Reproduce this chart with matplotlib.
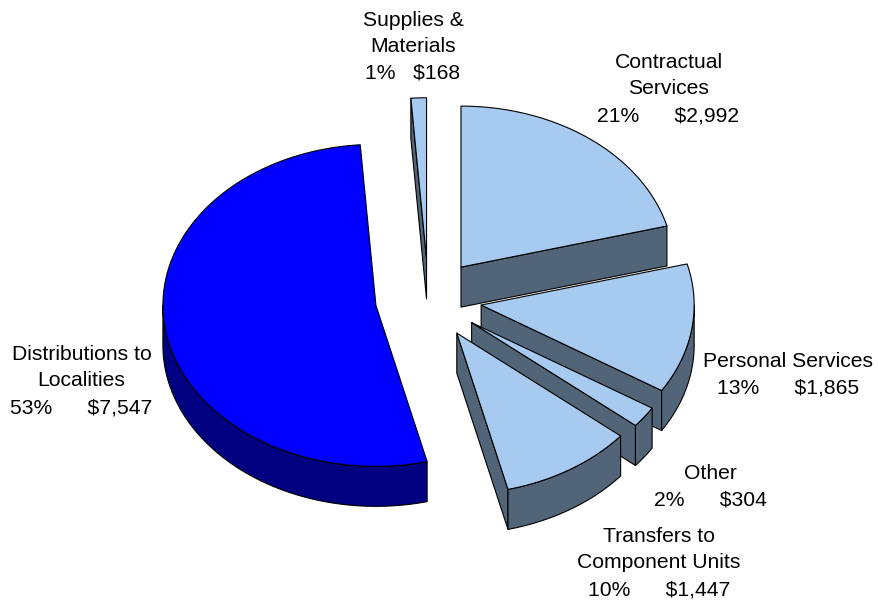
import numpy as np
import matplotlib
matplotlib.use("Agg")
import matplotlib.pyplot as plt
from matplotlib.patches import Polygon

# ---------------- data ----------------
categories = ["Contractual\nServices", "Personal Services", "Other",
              "Transfers to\nComponent Units", "Distributions to\nLocalities",
              "Supplies &\nMaterials"]
values = [2992, 1865, 304, 1447, 7547, 168]

# ---------------- style / layout ----------------
top_colors = ["#A6CAF0", "#A6CAF0", "#A6CAF0", "#A6CAF0", "#0000FF", "#A6CAF0"]
side_colors = ["#526478", "#526478", "#526478", "#526478", "#000080", "#526478"]
explode = 0.25
cx, cy = 428.5, 299.0     # pie centre (pixel space)
rx, ry = 213.0, 161.0     # ellipse radii
depth = 40.0
label_anchor = [(668.5, 68), (788.5, 367), (710, 479), (659, 542), (81.5, 360), (413, 26)]
label_gap = [6, 6, 6, 6, 6, 3]
line_step = 26.5

plt.rcParams['font.family'] = ['Liberation Sans', 'DejaVu Sans']

fig = plt.figure(figsize=(8.79, 6.05), dpi=100)
ax = fig.add_axes([0, 0, 1, 1])
ax.set_xlim(0, 879)
ax.set_ylim(605, 0)
ax.axis('off')

total = float(sum(values))
fracs = [v / total for v in values]
starts = np.concatenate([[0], np.cumsum(fracs)[:-1]]) * 360.0
ends = np.cumsum(fracs) * 360.0


def pt(c, th):
    t = np.radians(th)
    return np.array([c[0] + rx * np.sin(t), c[1] - ry * np.cos(t)])


slices = []
for i, (s, e) in enumerate(zip(starts, ends)):
    m = np.radians((s + e) / 2)
    c = np.array([cx + explode * rx * np.sin(m), cy - explode * ry * np.cos(m)])
    slices.append((c[1], i, c, s, e))

slices.sort(key=lambda q: q[0])
down = np.array([0, depth])
kw = dict(edgecolor='black', linewidth=0.8, joinstyle='round')

for _, i, c, s, e in slices:
    # radial walls
    if np.sin(np.radians(s)) < -1e-9:
        p = pt(c, s)
        ax.add_patch(Polygon([c, p, p + down, c + down], facecolor=side_colors[i], **kw))
    if np.sin(np.radians(e)) > 1e-9:
        p = pt(c, e)
        ax.add_patch(Polygon([c, p, p + down, c + down], facecolor=side_colors[i], **kw))
    # outer wall
    a0, a1 = max(s, 90.0), min(e, 270.0)
    if a1 > a0:
        th = np.linspace(a0, a1, 120)
        arc = np.array([pt(c, t) for t in th])
        poly = np.vstack([arc, (arc + down)[::-1]])
        ax.add_patch(Polygon(poly, facecolor=side_colors[i], **kw))
    # top face
    th = np.linspace(s, e, 200)
    arc = np.array([pt(c, t) for t in th])
    poly = np.vstack([[c], arc])
    ax.add_patch(Polygon(poly, facecolor=top_colors[i], **kw))

# labels
for i, (name, v) in enumerate(zip(categories, values)):
    pct = int(round(v / total * 100))
    lines = name.split("\n") + [f"{pct}%" + " " * label_gap[i] + f"${v:,}"]
    x0, y0 = label_anchor[i]
    for k, ln in enumerate(lines):
        ax.text(x0, y0 + k * line_step, ln, ha='center', va='baseline',
                fontsize=15.2, color='black')

fig.savefig("out.png", dpi=100)
